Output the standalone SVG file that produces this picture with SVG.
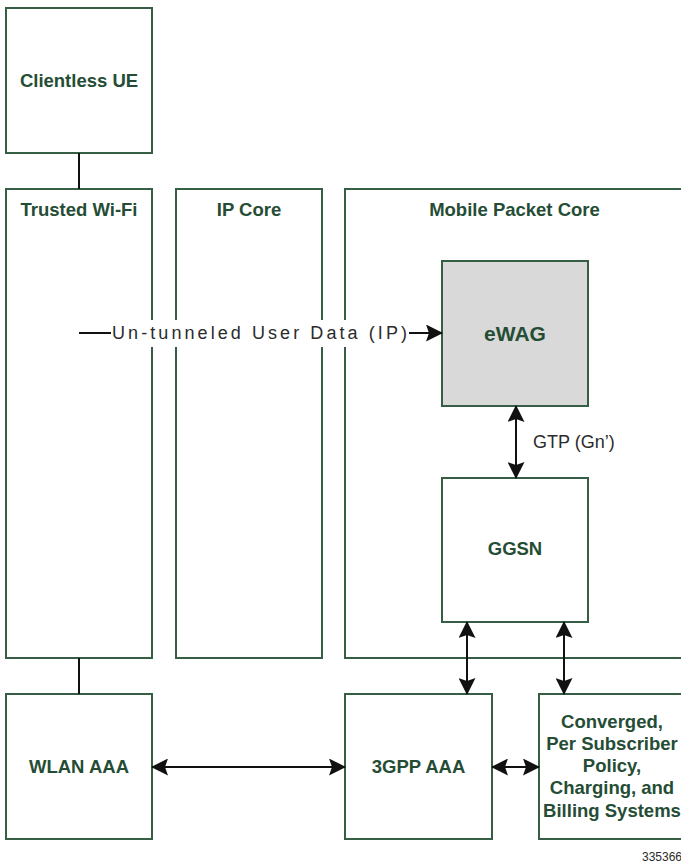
<svg xmlns="http://www.w3.org/2000/svg" width="681" height="865" viewBox="0 0 681 865">
<style>
.box{fill:#ffffff;stroke:#355e45;stroke-width:2}
.shade{fill:#d9d9d9;stroke:#355e45;stroke-width:2}
.lbl{font-family:"Liberation Sans",Arial,sans-serif;font-weight:bold;font-size:18.5px;fill:#254d35;text-anchor:middle}
.big{font-size:21px}
.plain{font-family:"Liberation Sans",Arial,sans-serif;font-size:18px;fill:#2b2b2b}
.ln{stroke:#111;stroke-width:2;fill:none}
.arr{stroke:#111;stroke-width:2;fill:none;marker-end:url(#ah)}
.arr2{stroke:#111;stroke-width:2;fill:none;marker-start:url(#ah);marker-end:url(#ah)}
</style>
<defs>
<marker id="ah" markerUnits="userSpaceOnUse" markerWidth="17" markerHeight="17" viewBox="0 0 17 17" refX="16" refY="8.5" orient="auto-start-reverse">
<path d="M0,0 L17,8.5 L0,17 L3,8.5 z" fill="#111"/>
</marker>
</defs>
<g id="clientless-ue">
<rect class="box" x="6" y="8" width="146" height="145"/>
<text class="lbl" x="79" y="87">Clientless UE</text>
</g>
<g id="trusted-wifi">
<rect class="box" x="6" y="189" width="146" height="469"/>
<text class="lbl" x="79" y="216">Trusted Wi-Fi</text>
</g>
<g id="ip-core">
<rect class="box" x="176" y="189" width="146" height="469"/>
<text class="lbl" x="249" y="216">IP Core</text>
</g>
<g id="mobile-packet-core">
<rect class="box" x="345" y="189" width="340" height="469"/>
<text class="lbl" x="514.5" y="216">Mobile Packet Core</text>
</g>
<g id="ewag">
<rect class="shade" x="442" y="261" width="146" height="145"/>
<text class="lbl big" x="515" y="341">eWAG</text>
</g>
<g id="ggsn">
<rect class="box" x="442" y="478" width="146" height="144"/>
<text class="lbl" x="515" y="555">GGSN</text>
</g>
<g id="wlan-aaa">
<rect class="box" x="6" y="694" width="146" height="145"/>
<text class="lbl" x="79" y="773">WLAN AAA</text>
</g>
<g id="3gpp-aaa">
<rect class="box" x="345" y="694" width="147" height="145"/>
<text class="lbl" x="418.5" y="773">3GPP AAA</text>
</g>
<g id="converged">
<rect class="box" x="539" y="694" width="147" height="145"/>
<text class="lbl" x="612" y="728">Converged,</text>
<text class="lbl" x="612" y="750">Per Subscriber</text>
<text class="lbl" x="612" y="772">Policy,</text>
<text class="lbl" x="612" y="794">Charging, and</text>
<text class="lbl" x="612" y="817">Billing Systems</text>
</g>
<rect x="96" y="320" width="330" height="27" fill="#ffffff"/>
<g id="connectors">
<line class="ln" x1="79" y1="153" x2="79" y2="189"/>
<line class="ln" x1="79" y1="658" x2="79" y2="694"/>
<line class="ln" x1="79" y1="333" x2="111" y2="333"/>
<line class="arr" x1="409" y1="333" x2="442" y2="333"/>
<line class="arr2" x1="516" y1="406" x2="516" y2="478"/>
<line class="arr2" x1="467" y1="622" x2="467" y2="694"/>
<line class="arr2" x1="564" y1="622" x2="564" y2="694"/>
<line class="arr2" x1="152" y1="767" x2="345" y2="767"/>
<line class="arr2" x1="492" y1="767" x2="539" y2="767"/>
</g>
<g id="labels">
<text class="plain" x="112" y="339" font-size="17.5" textLength="295" lengthAdjust="spacing">Un-tunneled User Data (IP)</text>
<text class="plain" x="533" y="448">GTP (Gn’)</text>
<text class="plain" x="642" y="861" style="font-size:12px">335366</text>
</g>
</svg>
